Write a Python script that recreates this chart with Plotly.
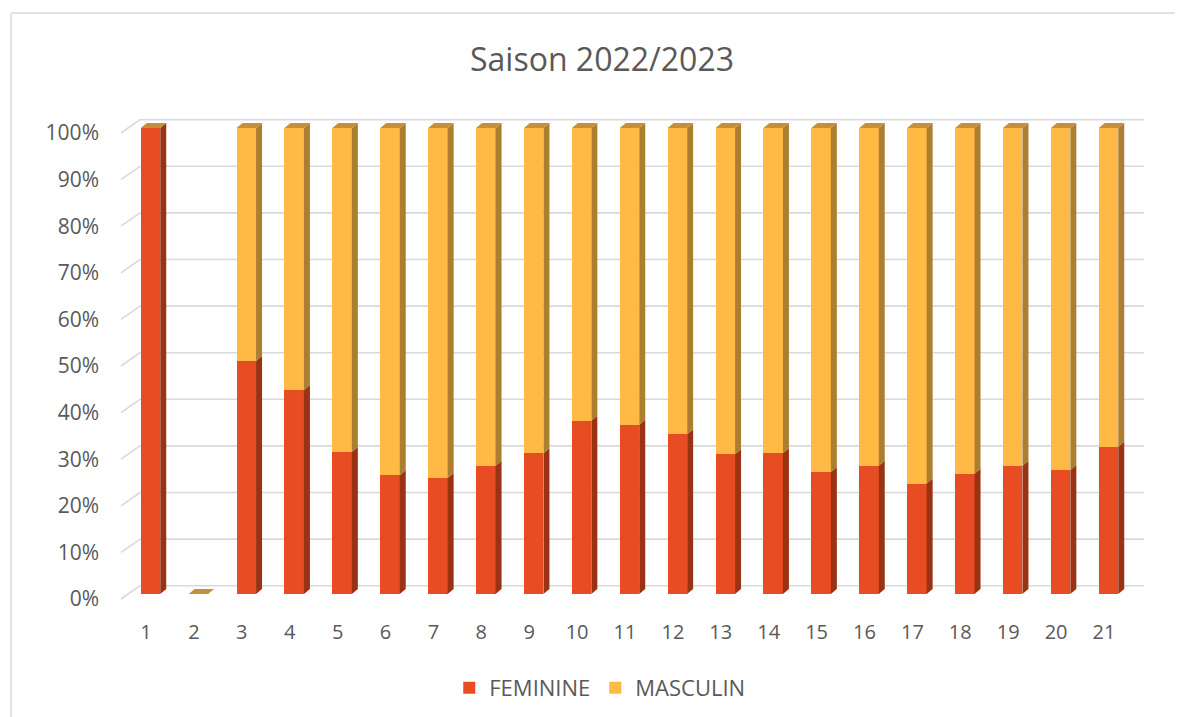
import plotly.graph_objects as go

# ---- data ----
categories = list(range(1, 22))
feminine = [100.0, 0.0, 50.0, 43.8, 30.5, 25.5, 24.9, 27.5, 30.2, 37.2, 36.3,
            34.3, 30.0, 30.2, 26.2, 27.5, 23.7, 25.8, 27.5, 26.6, 31.6]
masculin = [0.0, 0.0, 50.0, 56.2, 69.5, 74.5, 75.1, 72.5, 69.8, 62.8, 63.7,
            65.7, 70.0, 69.8, 73.8, 72.5, 76.3, 74.2, 72.5, 73.4, 68.4]
y_ticks = list(range(0, 101, 10))
y_tick_labels = [f"{v}%" for v in y_ticks]
title_text = "Saison 2022/2023"
series_names = ["FEMININE", "MASCULIN"]

# ---- style ----
C_FEM, C_MAS = "#E84C22", "#FFBA45"
C_FEM_SIDE, C_MAS_SIDE = "#9A3214", "#AC7E30"
C_TOP = "#C6903A"
GRID = "#D9D9D9"
TXT = "#595959"
FONT = "Open Sans"

BAR_W = 0.407        # bar width in category units
DX = 0.125           # 3D depth (x units)
DY = 1.07            # 3D depth (percent units)
WALL_PX = 13.3       # back-wall offset of gridlines (pixels)
WALL_FRAC = 0.0186   # width of the left wall (fraction of plot width)

W, H = 1183, 717

fig = go.Figure()
fig.add_trace(go.Bar(x=categories, y=feminine, name=series_names[0], marker_color=C_FEM,
                     marker_line_width=0, width=BAR_W, xaxis="x2", yaxis="y2"))
fig.add_trace(go.Bar(x=categories, y=masculin, name=series_names[1], marker_color=C_MAS,
                     marker_line_width=0, width=BAR_W, xaxis="x2", yaxis="y2"))

shapes = []
# gridlines on the back wall + slanted left-wall lines
for v in y_ticks:
    shapes.append(dict(type="line", xref="x domain", yref="y", ysizemode="pixel", yanchor=v,
                       x0=WALL_FRAC, x1=1, y0=WALL_PX, y1=WALL_PX,
                       line=dict(color=GRID, width=1.6), layer="below"))
    shapes.append(dict(type="line", xref="x domain", yref="y", ysizemode="pixel", yanchor=v,
                       x0=0, x1=WALL_FRAC, y0=0, y1=WALL_PX,
                       line=dict(color=GRID, width=1.6), layer="below"))

# 3D side and top faces derived from the data
for c, f, m in zip(categories, feminine, masculin):
    xr = c + BAR_W / 2
    xl = c - BAR_W / 2
    base = 0.0
    for val, col in ((f, C_FEM_SIDE), (m, C_MAS_SIDE)):
        if val > 0:
            top = base + val
            shapes.append(dict(type="path", xref="x2", yref="y2",
                               path=f"M{xr},{base} L{xr},{top} L{xr+DX},{top+DY} L{xr+DX},{base+DY} Z",
                               fillcolor=col, line=dict(width=0), layer="above"))
            base = top
    top = f + m
    shapes.append(dict(type="path", xref="x2", yref="y2",
                       path=f"M{xl},{top} L{xr},{top} L{xr+DX},{top+DY} L{xl+DX},{top+DY} Z",
                       fillcolor=C_TOP, line=dict(width=0), layer="above"))

# chart border (top and left edges only are visible)
shapes.append(dict(type="line", xref="paper", yref="paper", x0=-0.1075, x1=1.2, y0=1.194, y1=1.194,
                   line=dict(color=GRID, width=1.5), layer="below"))
shapes.append(dict(type="line", xref="paper", yref="paper", x0=-0.1075, x1=-0.1075, y0=-0.3, y1=1.194,
                   line=dict(color=GRID, width=1.5), layer="below"))

fig.update_layout(
    width=W, height=H,
    margin=dict(l=113, r=47, t=102, b=115),
    paper_bgcolor="white", plot_bgcolor="white",
    barmode="stack", bargap=0,
    font=dict(family=FONT, color=TXT, size=20),
    title=dict(text=title_text, x=594 / W, xref="container", xanchor="center",
               y=1 - 52 / H, yref="container", yanchor="middle",
               font=dict(size=32, color=TXT, family=FONT)),
    xaxis=dict(range=[0.478, 21.835], tickvals=categories, ticktext=[str(c) for c in categories],
               showgrid=False, zeroline=False, showline=False, ticks="",
               ticklabelstandoff=8, tickfont=dict(size=20, color=TXT)),
    xaxis2=dict(range=[0.3841, 21.741], overlaying="x", visible=False),
    yaxis=dict(range=[-2.361, 104.936], tickvals=y_ticks, ticktext=y_tick_labels,
               showgrid=False, zeroline=False, showline=False, ticks="",
               ticklabelstandoff=21, tickfont=dict(size=21, color=TXT)),
    yaxis2=dict(range=[-3.433, 103.863], overlaying="y", visible=False),
    legend=dict(orientation="h", x=0.468, xanchor="center", y=-0.156, yanchor="middle",
                traceorder="normal", font=dict(size=22, color=TXT), itemwidth=30),
    shapes=shapes,
    showlegend=True,
)

fig.write_html("out.html")
